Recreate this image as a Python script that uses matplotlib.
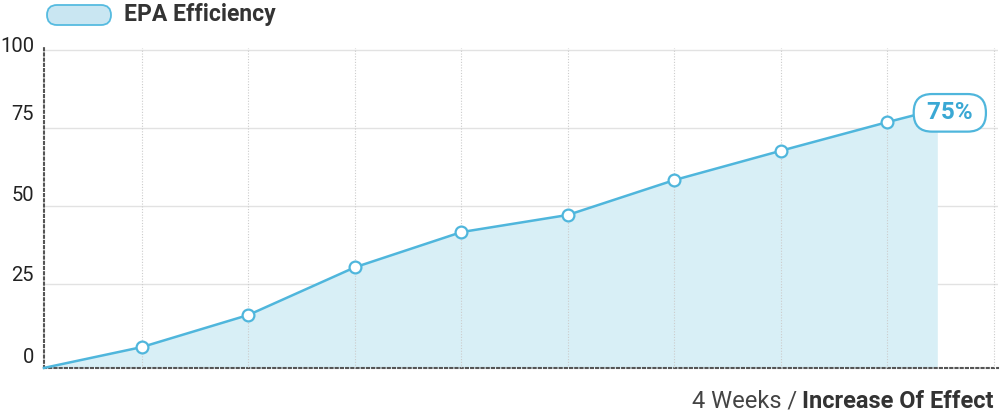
import numpy as np
import matplotlib.pyplot as plt
from matplotlib.patches import FancyBboxPatch
from matplotlib.transforms import IdentityTransform

plt.rcParams['font.family'] = ['Roboto', 'DejaVu Sans']

# data (x: week slots, gridlines at 1..8)
weeks = [0.08, 1, 2, 3, 4, 5, 6, 7, 8, 8.47]
efficiency = [-1.9, 4.8, 15.1, 30.4, 41.7, 47.2, 58.4, 67.8, 77.0, 81.1]
marker_weeks = [1, 2, 3, 4, 5, 6, 7, 8]
marker_values = [4.8, 15.1, 30.4, 41.7, 47.2, 58.4, 67.8, 77.0]
y_ticks = [0, 25, 50, 75, 100]
end_label = "75%"
series_name = "EPA Efficiency"

line_color = "#4fb6dc"
fill_color = "#d8eff6"

W, H = 1001, 415
fig = plt.figure(figsize=(W / 100, H / 100), dpi=100)
ax = fig.add_axes([44 / W, (H - 368) / H, (998 - 44) / W, (368 - 48) / H])

ax.set_xlim(0.08, 9.04)
ax.set_ylim(-1.93, 100.8)

# grid
for yt in y_ticks[1:]:
    ax.axhline(yt, color="#e2e2e2", lw=1, zorder=0)
for xt in range(1, 10):
    ax.axvline(xt, color="#cccccc", lw=0.8, ls=(0, (1, 1.5)), zorder=3)

ax.fill_between(weeks, efficiency, -1.93, color=fill_color, lw=0, zorder=1)
ax.plot(weeks, efficiency, color=line_color, lw=1.8, zorder=4, clip_on=False)
ax.plot(marker_weeks, marker_values, 'o', ms=8.5, mfc="white", mec=line_color,
        mew=1.6, zorder=5)

# spines
for s in ["top", "right"]:
    ax.spines[s].set_visible(False)
for s in ["left", "bottom"]:
    ax.spines[s].set_linestyle((0, (1, 1.5)))
    ax.spines[s].set_color("#555555")
    ax.spines[s].set_linewidth(1.5)
ax.set_xticks([])
ax.set_yticks([])

# y labels sit above their gridlines
label_y = {0: 1.3, 25: 27.9, 50: 53.6, 75: 79.6, 100: 101.4}
for yt in y_ticks:
    ax.text(-10 / (998 - 44), label_y[yt], str(yt),
            transform=ax.get_yaxis_transform(), ha="right", va="center",
            fontsize=14.5, color="#222222")

# end label
ax.annotate(" " + end_label + " ", xy=(weeks[-1], efficiency[-1]),
            xytext=(9, -2.5), textcoords="offset points", ha="center",
            va="center", fontsize=17.5, fontweight="bold", color="#3aa8d4",
            zorder=6, annotation_clip=False,
            bbox=dict(boxstyle="round,pad=0.3,rounding_size=0.75",
                      fc="white", ec=line_color, lw=1.6))

# legend (pixel coordinates, origin bottom-left)
leg = FancyBboxPatch((47, H - 25), 64, 20,
                     boxstyle="round,pad=0,rounding_size=10",
                     transform=IdentityTransform(), fc="#c9e6f2",
                     ec="#56bbe0", lw=1.3)
fig.patches.append(leg)
fig.text(124 / W, (H - 15) / H, series_name, ha="left", va="center",
         fontsize=16.5, fontweight="bold", color="#333333")

# footer
t2 = fig.text(994 / W, (H - 401) / H, "Increase Of Effect", ha="right",
              va="center", fontsize=17, fontweight="bold", color="#333333")
fig.canvas.draw()
bb = t2.get_window_extent()
fig.text(bb.x0 / W, (H - 401) / H, "4 Weeks / ", ha="right", va="center",
         fontsize=17, color="#444444")

fig.savefig("out.png", dpi=100)
